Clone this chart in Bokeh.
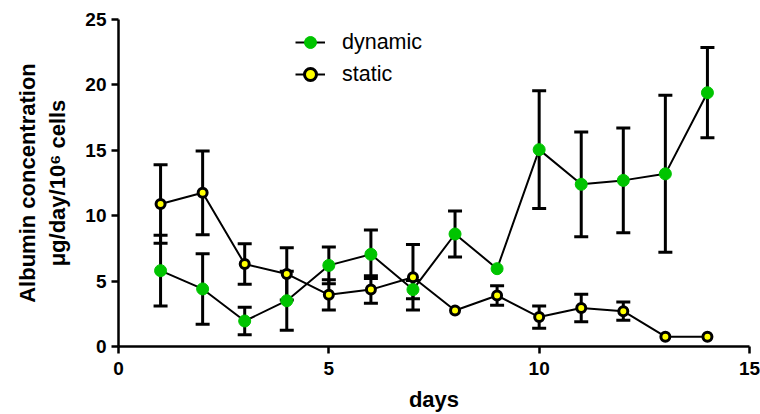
from bokeh.plotting import figure
from bokeh.models import ColumnDataSource, Whisker, TeeHead, Range1d, FixedTicker, Legend, LegendItem
from bokeh.embed import file_html
from bokeh.resources import INLINE

days = [1, 2, 3, 4, 5, 6, 7, 8, 9, 10, 11, 12, 13, 14]
dynamic = [5.8, 4.4, 1.95, 3.5, 6.2, 7.05, 4.35, 8.6, 5.95, 15.05, 12.4, 12.7, 13.2, 19.4]
dynamic_err = [2.7, 2.7, 1.05, 2.25, 1.4, 1.85, 0.7, 1.75, 0.0, 4.5, 4.0, 4.0, 6.0, 3.45]
static = [10.9, 11.75, 6.3, 5.55, 3.95, 4.35, 5.3, 2.75, 3.9, 2.25, 2.95, 2.7, 0.75, 0.75]
static_err = [3.0, 3.2, 1.55, 2.0, 1.15, 1.05, 2.5, 0.0, 0.75, 0.85, 1.05, 0.7, 0.0, 0.0]
x_ticks = [0, 5, 10, 15]
y_ticks = [0, 5, 10, 15, 20, 25]

FONT = "Liberation Sans"

p = figure(width=760, height=414, output_backend="svg", toolbar_location=None,
           x_range=Range1d(0, 15), y_range=Range1d(0, 25),
           min_border_left=118, min_border_right=11, min_border_top=19, min_border_bottom=68)
p.outline_line_color = None
p.xgrid.visible = False
p.ygrid.visible = False
p.background_fill_color = "white"
p.border_fill_color = "white"

for ax, ticks in ((p.xaxis[0], x_ticks), (p.yaxis[0], y_ticks)):
    ax.ticker = FixedTicker(ticks=ticks)
    ax.axis_line_width = 2.5
    ax.axis_line_color = "black"
    ax.major_tick_line_width = 2.5
    ax.major_tick_line_color = "black"
    ax.major_tick_in = 0
    ax.major_tick_out = 7
    ax.minor_tick_line_color = None
    ax.major_label_text_font = FONT
    ax.major_label_text_font_style = "bold"
    ax.major_label_text_font_size = "19px"
    ax.major_label_text_color = "black"
    ax.axis_label_text_font = FONT
    ax.axis_label_text_font_style = "bold"
    ax.axis_label_text_font_size = "22px"
    ax.axis_label_text_color = "black"

p.xaxis.axis_label = "days"
p.xaxis.major_label_standoff = 8
p.xaxis.axis_label_standoff = 9
p.yaxis.axis_label = "Albumin concentration\nμg/day/10⁶ cells"
p.yaxis.axis_label_standoff = 12


def whiskers(vals, errs):
    xs = [d for d, e in zip(days, errs) if e > 0]
    lo = [v - e for v, e in zip(vals, errs) if e > 0]
    hi = [v + e for v, e in zip(vals, errs) if e > 0]
    src = ColumnDataSource(dict(x=xs, lower=lo, upper=hi))
    w = Whisker(source=src, base="x", lower="lower", upper="upper",
                line_color="black", line_width=3,
                upper_head=TeeHead(size=14, line_width=3, line_color="black"),
                lower_head=TeeHead(size=14, line_width=3, line_color="black"))
    p.add_layout(w)


src_dyn = ColumnDataSource(dict(x=days, y=dynamic))
src_sta = ColumnDataSource(dict(x=days, y=static))

whiskers(dynamic, dynamic_err)
l1 = p.line("x", "y", source=src_dyn, line_color="black", line_width=2)
m1 = p.scatter("x", "y", source=src_dyn, size=12, fill_color="#00C400", line_color="#00C400", line_width=1)

whiskers(static, static_err)
l2 = p.line("x", "y", source=src_sta, line_color="black", line_width=2)
m2 = p.scatter("x", "y", source=src_sta, size=9, fill_color="#FFFF00", line_color="black", line_width=3)

legend = Legend(items=[LegendItem(label="dynamic", renderers=[l1, m1]),
                       LegendItem(label="static", renderers=[l2, m2])],
                location=(177, 256), padding=0, margin=0, spacing=0,
                glyph_width=30, glyph_height=32, label_height=32, label_standoff=17,
                label_text_font=FONT, label_text_font_size="21.5px", label_text_color="black",
                border_line_color=None, background_fill_alpha=0)
p.add_layout(legend)

open("out.html", "w").write(file_html(p, INLINE))
